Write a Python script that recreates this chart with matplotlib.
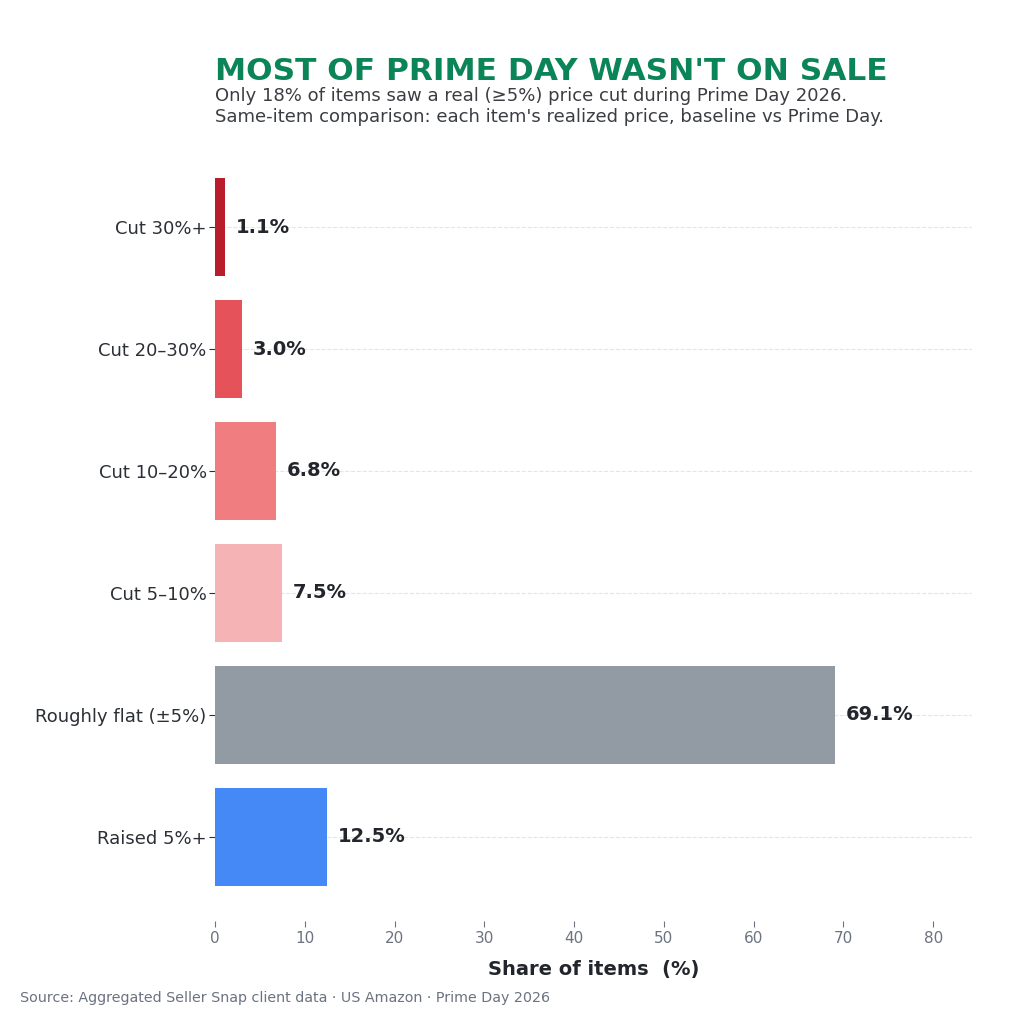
import matplotlib.pyplot as plt

categories = ['Cut 30%+', 'Cut 20–30%', 'Cut 10–20%', 'Cut 5–10%', 'Roughly flat (±5%)', 'Raised 5%+']
shares = [1.1, 3.0, 6.8, 7.5, 69.1, 12.5]
colors = ['#B91C2B', '#E5525A', '#F07E80', '#F5B3B5', '#929AA4', '#4589F6']

fig = plt.figure(figsize=(10.24, 10.24), dpi=100)
ax = fig.add_axes([0.21, 0.1006, 0.739, 0.7598])

ypos = list(range(len(categories)))[::-1]
ax.barh(ypos, shares, height=0.8, color=colors, zorder=2)

for y, v in zip(ypos, shares):
    ax.text(v + 1.2, y, f'{v:.1f}%', va='center', ha='left',
            fontsize=14, fontweight='bold', color='#22252b', zorder=3)

ax.set_yticks(ypos)
ax.set_yticklabels(categories, fontsize=13, color='#2b2f36')
ax.set_xlim(0, max(shares) * 1.22)
ax.set_xticks(range(0, 81, 10))
ax.tick_params(axis='x', labelsize=11, colors='#6b7280', length=4)
ax.tick_params(axis='y', length=4, pad=2, colors='#2b2f36')

ax.grid(axis='y', linestyle='--', color='#e3e5e8', linewidth=0.8, zorder=0)
for s in ax.spines.values():
    s.set_visible(False)

ax.set_xlabel('Share of items  (%)', fontsize=14, fontweight='bold', color='#22252b', labelpad=10)

fig.text(0.21, 0.93, "MOST OF PRIME DAY WASN'T ON SALE", fontsize=22.5, fontweight='bold',
         color='#0B8457', ha='left', va='center')
fig.text(0.21, 0.896, 'Only 18% of items saw a real (≥5%) price cut during Prime Day 2026.\n'
         "Same-item comparison: each item's realized price, baseline vs Prime Day.",
         fontsize=13, color='#3a3d42', ha='left', va='center', linespacing=1.15)
fig.text(0.02, 0.025, 'Source: Aggregated Seller Snap client data · US Amazon · Prime Day 2026',
         fontsize=10.3, color='#6b7280', ha='left', va='center')

fig.savefig('out.png', dpi=100)
